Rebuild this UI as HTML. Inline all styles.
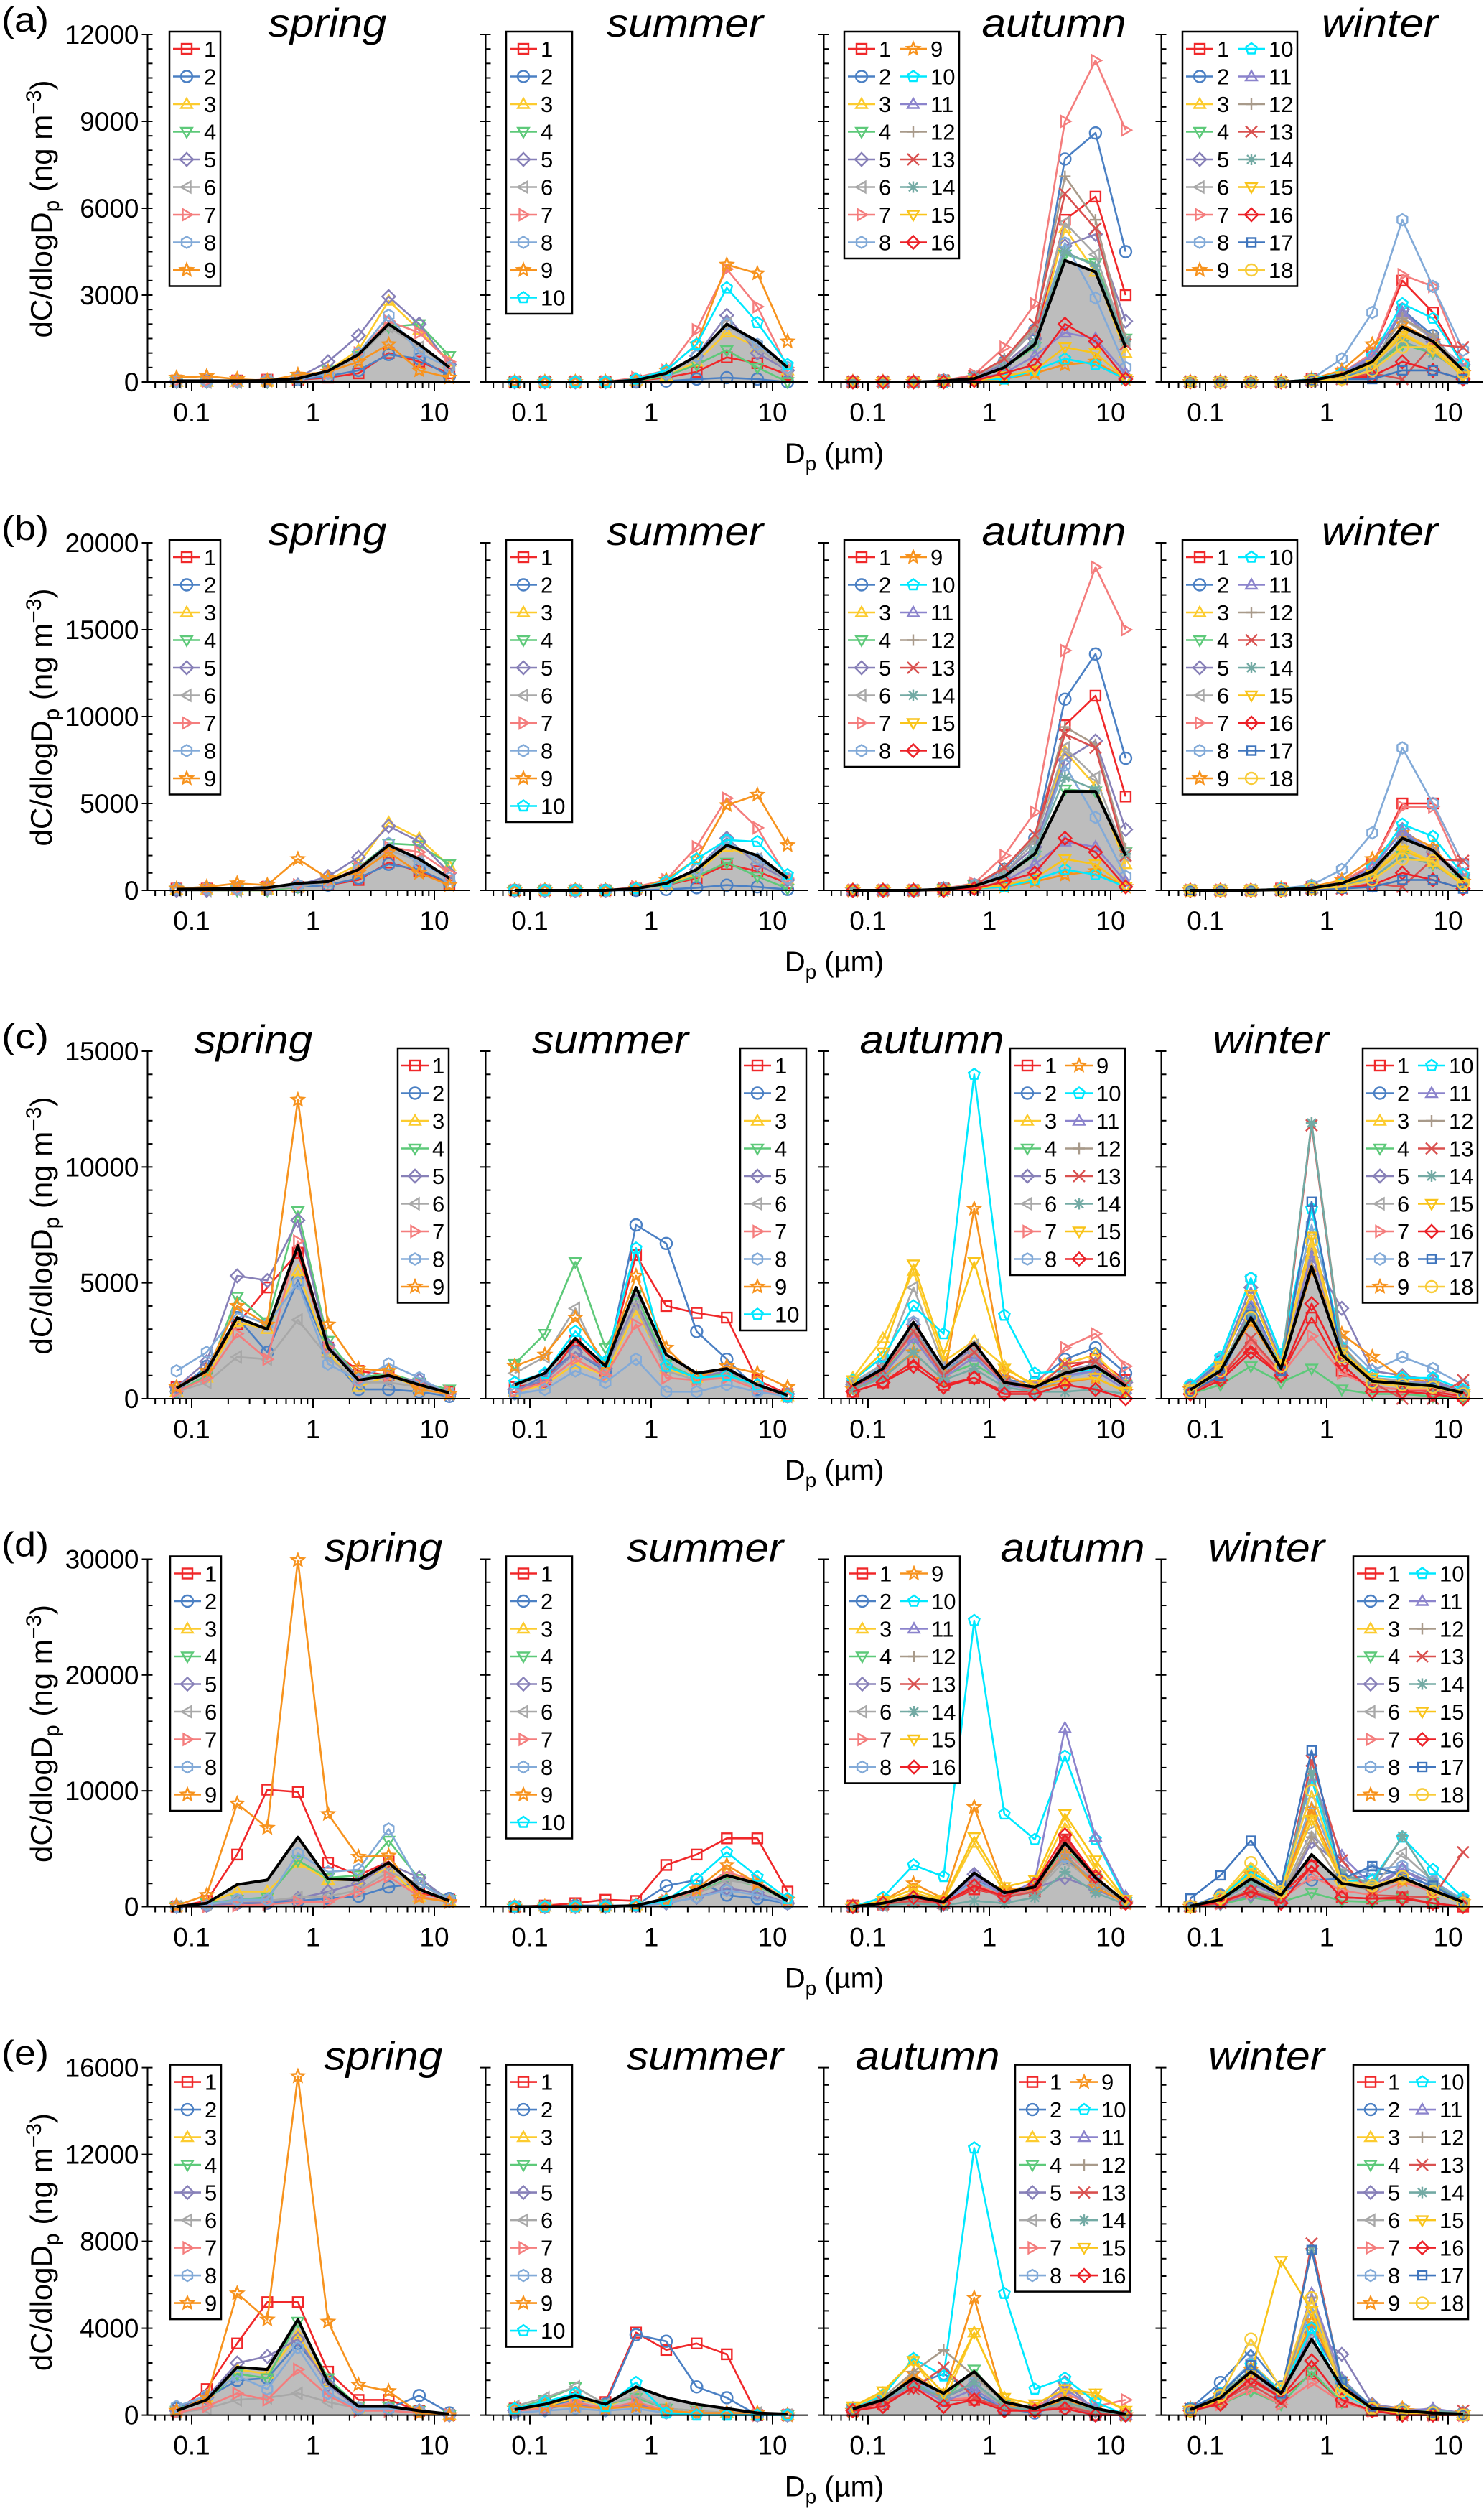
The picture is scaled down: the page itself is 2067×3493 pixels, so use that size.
<!DOCTYPE html>
<html><head><meta charset="utf-8"><title>Size distributions</title>
<style>html,body{margin:0;padding:0;background:#fff}svg{display:block}text{font-family:"Liberation Sans",Arial,sans-serif}</style>
</head><body>
<svg id="chart" xmlns="http://www.w3.org/2000/svg" width="2067" height="3493" viewBox="0 0 2067 3493"></svg>
<script>
// ---------- data ----------
const sizeBins = [0.075,0.133,0.237,0.42,0.75,1.33,2.37,4.2,7.5,13.3];
const rowLabels = ['(a)','(b)','(c)','(d)','(e)'];
const seasons = ['spring','summer','autumn','winter'];
const yMax = [12000,20000,15000,30000,16000];
const yStep = [3000,5000,5000,10000,4000];
const yMinorDiv = [6,5,5,5,5];
const xTickLabels = ['0.1','1','10'];
const xTickValues = [0.1,1,10];

const a_spring = [[50,50,50,80,80,150,300,1000,700,300],[30,30,30,50,80,200,400,950,800,200],[0,0,0,0,100,400,1100,2800,1800,700],[0,0,0,0,100,400,900,1900,2000,900],[30,30,30,50,150,700,1600,2950,2000,600],[0,0,0,50,100,300,900,1900,1200,500],[30,30,30,50,100,300,1000,2100,1700,700],[30,30,30,50,100,300,1000,2300,1000,500],[150,200,100,50,250,350,700,1300,400,150]];
const a_spring_mean = [40,40,40,50,120,380,950,2000,1300,500];
const a_summer = [[0,0,0,0,50,150,350,850,650,250],[0,0,0,0,0,30,100,150,100,0],[0,0,0,0,50,200,700,1700,1200,400],[0,0,0,0,50,200,600,1100,500,0],[0,0,0,0,50,300,900,2300,1000,400],[0,0,0,0,50,300,800,2000,1200,400],[0,0,0,0,150,400,1800,3900,2600,500],[0,0,0,0,50,300,900,2000,1300,500],[0,0,0,0,50,400,1300,4050,3750,1400],[0,0,0,0,100,400,1300,3250,2050,600]];
const a_summer_mean = [0,0,0,0,60,300,900,2000,1400,500];
const a_autumn = [[0,0,0,50,150,600,1500,5600,6400,3000],[0,0,0,50,150,700,1800,7700,8600,4500],[0,0,0,50,150,500,1300,5300,3800,1000],[0,0,0,50,150,500,1200,4400,4100,1500],[0,0,0,50,150,600,1500,4700,5100,2100],[0,0,0,50,200,700,1800,5500,4400,1400],[0,0,0,50,250,1200,2700,9000,11100,8700],[0,0,0,50,150,500,1300,4800,2900,500],[0,0,0,0,50,100,300,600,700,100],[0,0,0,0,100,100,400,800,600,100],[0,0,0,0,100,300,900,1700,1500,300],[0,0,0,50,200,800,1900,7100,5600,1500],[0,0,0,50,200,800,2000,6500,5300,1300],[0,0,0,50,150,500,1400,4500,4000,1400],[0,0,0,0,50,200,400,1200,1000,100],[0,0,0,0,50,300,600,2000,1400,100]];
const a_autumn_mean = [0,0,0,30,120,500,1300,4200,3800,1200];
const a_winter = [[0,0,0,0,100,200,1000,3500,2400,600],[0,0,0,0,50,150,500,2500,1600,400],[0,0,0,0,50,200,700,1700,1100,300],[0,0,0,0,50,200,500,1300,1000,400],[0,0,0,0,50,300,800,2500,1400,600],[0,0,0,0,50,300,700,2200,1500,500],[0,0,0,0,100,300,1000,3700,3300,700],[0,0,0,0,100,800,2400,5600,3300,1100],[0,0,0,0,100,400,1300,2000,1400,300],[0,0,0,0,100,300,900,2700,2200,600],[0,0,0,0,50,300,900,2400,1500,400],[0,0,0,0,50,200,600,2200,1600,300],[0,0,0,0,50,100,300,100,1300,1200],[0,0,0,0,50,200,500,1400,1000,300],[0,0,0,0,50,200,600,1600,1100,200],[0,0,0,0,50,100,200,700,400,100],[0,0,0,0,50,100,100,400,400,100],[0,0,0,0,50,100,400,1200,1200,300]];
const a_winter_mean = [0,0,0,0,60,250,700,1900,1400,400];

const b_spring = [[100,100,100,200,200,300,600,1600,1100,300],[100,100,100,200,200,300,700,1500,1200,400],[0,0,0,0,200,600,1500,3900,3000,1400],[0,0,0,0,200,500,1300,2700,2600,1500],[0,0,100,100,300,800,1900,3700,2800,1000],[0,0,0,100,200,500,1200,2300,1700,600],[100,100,100,200,300,500,1300,2500,2200,1000],[100,100,100,200,300,500,1200,2700,1600,700],[100,200,400,300,1800,700,1000,2200,1000,300]];
const b_spring_mean = [60,80,100,150,400,500,1200,2600,1800,700];
const b_summer = [[0,0,0,0,100,300,700,1500,1100,400],[0,0,0,0,0,50,150,300,200,50],[0,0,0,0,100,300,1000,2500,1800,600],[0,0,0,0,100,300,800,1600,800,100],[0,0,0,0,100,400,1200,3000,1500,600],[0,0,0,0,100,400,1100,2700,1800,600],[0,0,0,0,200,600,2500,5300,3600,700],[0,0,0,0,100,400,1200,2800,1800,700],[0,0,0,0,100,600,1800,4900,5500,2600],[0,0,0,0,100,500,1800,2900,2800,900]];
const b_summer_mean = [0,0,0,0,100,400,1200,2600,2000,700];
const b_autumn = [[0,0,0,100,300,1000,2500,9500,11200,5400],[0,0,0,100,300,1200,3000,11000,13600,7600],[0,0,0,100,300,900,2200,8000,6000,1500],[0,0,0,100,300,800,2000,5800,5700,2200],[0,0,0,100,300,1000,2500,7500,8600,3500],[0,0,0,100,300,1000,2800,8200,6500,2000],[0,0,0,100,400,2000,4500,13800,18600,15000],[0,0,0,100,300,900,2200,7200,4200,800],[0,0,0,0,100,200,500,900,1100,200],[0,0,0,0,100,200,600,1200,900,200],[0,0,0,0,100,500,1500,2800,2500,500],[0,0,0,100,300,1300,3000,9400,8400,2400],[0,0,0,100,300,1300,3200,9000,8200,2000],[0,0,0,100,300,800,2300,6500,5800,2100],[0,0,0,0,100,300,700,1800,1500,200],[0,0,0,0,100,500,1000,3000,2200,200]];
const b_autumn_mean = [0,0,0,60,250,800,2100,5700,5700,2000];
const b_winter = [[0,0,0,100,200,400,1500,5000,5000,1500],[0,0,0,0,100,300,900,3200,2300,600],[0,0,0,0,100,300,1000,2500,1600,400],[0,0,0,0,100,300,700,2000,1500,600],[0,0,0,0,100,400,1200,3500,2200,900],[0,0,0,0,100,400,1000,3000,2200,700],[0,0,0,100,200,500,1500,4800,4800,1000],[0,0,0,100,300,1200,3300,8200,5000,1500],[0,0,0,100,200,600,1800,3300,2500,500],[0,0,0,100,200,400,1300,3800,3100,900],[0,0,0,0,100,400,1300,3400,2200,600],[0,0,0,0,100,300,900,3000,2300,500],[0,0,0,0,100,100,400,200,1800,1700],[0,0,0,0,100,300,700,2000,1500,400],[0,0,0,0,100,300,900,2300,1600,300],[0,0,0,0,100,100,300,1000,600,100],[0,0,0,0,100,100,200,600,600,100],[0,0,0,0,100,200,600,1800,1700,400]];
const b_winter_mean = [0,0,0,40,130,400,1100,3000,2300,600];

const c_spring = [[500,1300,3200,4800,6300,2200,1200,1000,600,300],[300,1400,3500,2000,5100,2000,400,400,300,100],[300,900,3300,3000,5500,2000,500,1000,500,200],[300,1000,4400,3300,8100,2500,900,1100,700,400],[500,1600,5300,5100,7700,2300,900,900,800,200],[300,700,1800,1700,3400,1800,700,700,500,200],[300,900,2800,1700,6800,2200,800,1000,600,300],[1200,2000,3700,3200,5000,1500,800,1500,900,200],[500,1200,4000,3200,12900,3200,1300,1200,400,200]];
const c_spring_mean = [450,1200,3500,3000,6600,2200,800,1000,600,250];
const c_summer = [[500,700,2500,1200,6200,4000,3700,3500,800,200],[300,1000,2000,1200,7500,6700,2900,1700,400,100],[300,600,1500,1000,3800,1300,900,1000,500,100],[1500,2800,5900,2200,4500,1500,900,1100,500,100],[400,800,2000,1300,4200,1400,900,1200,600,200],[1100,1800,3900,1200,4000,1200,800,1000,500,100],[300,700,1700,1000,3200,900,800,900,400,100],[200,400,1200,700,1700,300,300,600,300,100],[1400,1900,3500,1500,5300,2200,900,1400,1100,500],[700,1100,2900,1600,6500,1400,900,1000,600,100]];
const c_summer_mean = [600,1100,2600,1400,4800,1900,1100,1300,600,150];
const c_autumn = [[300,700,1600,600,900,300,300,1300,1700,800],[700,1400,3000,1200,2000,800,700,1700,2200,1100],[900,2600,5500,1600,2500,1400,500,1500,1900,600],[500,1100,2600,1000,1500,700,400,900,1300,600],[600,1300,3200,1300,2200,800,500,1200,1500,700],[700,1500,4800,1400,2300,600,400,1100,1500,500],[500,1200,2800,1000,2100,700,500,2200,2800,1400],[600,1400,3300,1200,1900,500,300,900,1200,400],[400,1000,2000,800,8200,1100,400,700,900,300],[800,1800,4000,2800,14000,3600,1100,1200,1200,400],[500,1000,2600,900,1800,600,400,1000,1200,400],[600,1300,3000,1100,2000,700,500,1200,1400,500],[500,1200,2900,1000,2000,700,400,1500,1600,600],[400,900,2000,800,1300,500,300,300,400,200],[800,2000,5800,1900,5900,1300,600,800,900,300],[300,700,1400,500,900,200,200,600,400,0]];
const c_autumn_mean = [560,1300,3300,1300,2400,700,500,1100,1400,550];
const c_winter = [[300,900,2200,1000,3500,1200,500,400,300,100],[500,1600,4200,1300,5700,2100,800,700,600,300],[400,1300,3400,1200,6500,1800,700,500,400,200],[200,600,1400,700,1300,400,200,200,100,0],[500,1500,4800,1600,6100,3900,1200,1000,800,300],[400,1200,3600,1400,5900,2200,900,800,600,300],[300,1000,2500,1000,2700,1100,500,400,400,200],[600,1700,5200,1800,7500,2500,1200,1800,1300,600],[400,1300,3300,1300,5500,2800,1800,900,700,300],[600,1800,5200,1900,8200,2200,1000,900,900,400],[400,1200,4000,1300,6300,2100,800,700,700,300],[400,1300,3800,1200,11900,2300,900,700,600,300],[300,900,2600,1100,11800,2000,700,0,0,800],[400,1300,3700,1300,11900,2100,800,700,600,300],[400,1400,4500,1500,7000,2000,900,600,500,200],[200,800,2000,1000,4100,1500,300,300,200,0],[300,1000,3600,1200,8500,1800,700,600,500,200],[300,1200,3500,1400,6800,1800,700,600,500,200]];
const c_winter_mean = [380,1200,3500,1300,5700,1900,750,650,550,250];

const d_spring = [[0,500,4500,10100,9900,3800,2700,3900,1200,600],[0,100,300,300,500,700,900,1700,2000,700],[0,300,1300,1300,3800,2300,2300,3300,800,500],[0,300,600,800,4000,2500,2700,5700,2400,600],[0,100,300,400,700,1300,2000,3700,2500,500],[0,200,500,500,800,900,1400,3000,2000,500],[0,0,100,200,400,400,1300,2600,900,400],[0,200,600,600,4600,3000,3200,6700,2000,600],[100,1000,8900,6800,29900,8000,4300,4400,800,400]];
const d_spring_mean = [0,300,1900,2300,6000,2400,2300,3800,1500,500];
const d_summer = [[0,100,300,600,500,3600,4500,5900,5900,1300],[0,0,100,100,100,1800,2300,1000,700,300],[0,0,0,0,100,500,1300,2900,2200,600],[0,0,0,0,100,500,1200,2400,1800,500],[0,0,0,0,100,300,800,1600,1200,300],[0,0,0,0,100,400,1100,2300,1900,500],[0,0,0,0,100,500,1400,3000,2200,500],[0,0,0,0,100,300,800,1400,1000,300],[0,0,0,0,100,600,1500,3600,2000,600],[0,0,0,0,100,500,2400,4700,2600,700]];
const d_summer_mean = [0,0,0,0,100,700,1500,2700,2000,500];
const d_autumn = [[100,200,500,300,1500,1000,1500,5800,2500,300],[0,200,800,300,2300,1200,1900,4200,2000,500],[0,300,1200,500,5500,1300,1900,7200,3200,600],[0,200,500,200,2000,1000,1500,5000,2400,400],[0,200,600,200,2800,1100,1600,2500,1500,400],[0,100,400,200,2000,900,1200,4000,2000,400],[0,200,600,300,2000,900,1500,4800,2400,500],[0,200,600,300,2200,1100,1700,4300,2200,500],[0,500,2000,700,8600,1500,1500,4500,1700,300],[0,800,3600,2600,24700,8000,5800,13000,5800,600],[0,300,700,200,2700,900,2200,15400,6000,900],[0,200,600,300,1800,900,1300,4500,2000,400],[0,200,500,300,1700,800,1300,5900,2600,400],[0,100,300,100,500,300,800,3000,1200,200],[0,500,1500,600,6000,1700,2300,8000,4000,600],[0,300,800,300,1800,900,1900,6200,2600,300]];
const d_autumn_mean = [0,300,900,400,2900,1200,1700,5500,2500,400];
const d_winter = [[0,700,2300,1000,3500,800,700,800,300,0],[0,1000,2600,1300,2300,2400,2700,3100,2000,500],[0,800,3300,1500,8000,2500,1800,2500,1500,400],[0,200,800,400,1200,500,400,700,300,0],[0,300,1000,500,5600,3500,1500,3200,2000,500],[0,500,2200,1000,6500,2800,1700,4600,2200,500],[0,300,1200,600,2600,1400,1000,2100,1300,300],[0,600,2500,1100,9000,2500,3200,3500,2200,600],[0,800,2800,1200,8400,2000,1600,2300,1500,400],[0,800,3000,1500,11000,2200,2300,6000,3200,800],[0,500,2000,800,11300,4400,1800,3300,1500,300],[0,400,1500,700,6000,2000,1400,2500,1300,300],[0,300,1300,600,12600,4000,1000,900,800,4700],[0,500,2100,1000,11600,2800,2000,6100,2000,500],[0,600,2800,1200,7500,2200,1700,2400,1400,300],[0,400,1300,300,3500,800,700,700,300,0],[700,2700,5700,1800,13500,2400,3500,2700,1800,400],[0,800,3800,1300,10000,2200,1800,2600,1300,300]];
const d_winter_mean = [50,600,2400,1000,4500,2000,1600,2500,1400,400];

const e_spring = [[200,1200,3300,5200,5200,2000,700,700,200,0],[300,800,1600,1700,3300,1600,300,300,900,100],[200,800,2100,1900,3700,1500,300,400,200,0],[200,700,1900,1700,4300,1700,400,400,200,0],[200,800,2400,2700,3500,1400,300,300,200,0],[100,300,700,800,1000,600,300,200,100,0],[100,400,1000,700,2100,900,200,200,100,0],[400,900,1800,1200,3100,1000,300,300,200,0],[200,800,5600,4400,15600,4300,1400,1100,100,0]];
const e_spring_mean = [200,700,2200,2100,4400,1500,400,400,200,50];
const e_summer = [[300,500,800,600,3800,3000,3300,2800,0,0],[200,400,700,500,3700,3400,1300,800,0,0],[200,400,800,400,900,300,200,100,0,0],[300,700,1300,500,800,300,200,100,0,0],[200,300,500,300,500,200,100,100,0,0],[400,800,1300,500,900,300,200,100,100,0],[200,300,600,300,600,200,100,100,0,0],[100,200,300,200,300,100,100,100,0,0],[300,400,400,300,400,200,100,100,100,0],[300,600,1000,400,1500,100,0,0,0,0]];
const e_summer_mean = [250,500,900,500,1300,800,500,300,100,50];
const e_autumn = [[200,500,1500,700,700,400,300,500,0,0],[300,600,1400,1900,1000,300,100,500,0,0],[300,1000,2500,600,3800,800,200,1100,900,200],[300,600,1500,700,2100,500,300,600,200,0],[300,700,1600,800,1400,400,200,1500,200,0],[300,700,1700,900,1400,300,200,800,200,0],[200,500,1300,700,800,300,400,1000,400,700],[300,700,1600,800,1500,400,200,1200,300,0],[200,600,1900,900,5400,500,200,700,300,0],[300,900,2600,1800,12300,5600,1200,1700,600,0],[300,600,1400,600,1200,300,200,1200,300,0],[300,800,2000,3000,1800,600,200,500,100,0],[200,600,1200,2200,800,300,200,400,100,0],[300,700,1400,800,1500,400,200,600,200,0],[400,1100,2500,1000,3800,800,500,1200,1000,200],[200,400,1300,400,700,200,200,300,0,0]];
const e_autumn_mean = [280,700,1700,1000,2000,600,300,800,300,50];
const e_winter = [[200,600,1600,800,1900,600,200,100,0,0],[300,1500,3000,1300,4000,1500,400,200,100,100],[300,900,2400,1100,4600,1300,300,200,100,0],[200,500,1100,500,2000,600,200,100,0,0],[300,900,2000,900,3800,2800,500,300,200,100],[300,800,1800,800,3500,1200,300,200,100,0],[200,500,1200,500,1500,600,200,100,0,0],[300,1000,2400,1000,5000,1500,400,300,200,100],[300,900,2100,1000,4300,1500,400,300,200,100],[300,1000,2300,1100,4000,1000,300,200,100,0],[300,900,2000,900,5600,1700,300,200,300,100],[300,800,1800,800,5400,1400,300,200,100,0],[300,600,1400,600,7900,1500,300,0,0,200],[300,900,2100,900,7600,1600,400,200,200,100],[200,700,1900,7100,4800,1200,300,100,0,0],[200,500,1700,800,2500,700,200,0,0,0],[300,1000,2300,1000,7600,1500,400,200,100,0],[200,900,3500,1200,5400,1100,300,200,100,0]];
const e_winter_mean = [250,800,2000,1000,3500,1300,300,200,100,50];

const seriesData = [[a_spring,a_summer,a_autumn,a_winter],[b_spring,b_summer,b_autumn,b_winter],[c_spring,c_summer,c_autumn,c_winter],[d_spring,d_summer,d_autumn,d_winter],[e_spring,e_summer,e_autumn,e_winter]];
const meanData = [[a_spring_mean,a_summer_mean,a_autumn_mean,a_winter_mean],[b_spring_mean,b_summer_mean,b_autumn_mean,b_winter_mean],[c_spring_mean,c_summer_mean,c_autumn_mean,c_winter_mean],[d_spring_mean,d_summer_mean,d_autumn_mean,d_winter_mean],[e_spring_mean,e_summer_mean,e_autumn_mean,e_winter_mean]];

// ---------- layout ----------
const X01 = [267,738,1209,1679], DEC = 169, PH = 484;
const Y0 = [532,1240,1948,2655.5,3363.6];
const titleX = [[456,954,1468,1922],[456,954,1468,1922],[353,850,1298,1770],[534,982,1494,1764],[534,982,1292,1764]];
const titleW = {spring:165,summer:218,autumn:201,winter:162};
const legX = [[236,705,1176,1647],[236,705,1176,1647],[554,1031,1407,1898],[237,705,1177,1885],[237,705,1414,1885]];
const colors = ['#f0282a','#4b80c4','#fccb2e','#5dc979','#8780b8','#a8a8a8','#f47d7d','#82aad8','#f7931e','#00e8ff','#8b83cc','#a89a8a','#d9504f','#73aaa4','#f9c41a','#ec2027','#3f75bd','#f8cc3a'];
const shapes = ['square','circle','up','down','diamond','left','right','hex','star','pent','up','plus','cross','aster','down','diamond','sq2','circle'];

const NS = 'http://www.w3.org/2000/svg';
const svg = document.getElementById('chart');
function mk(tag, attrs, parent){const e=document.createElementNS(NS,tag);for(const k in attrs)e.setAttribute(k,attrs[k]);(parent||svg).appendChild(e);return e;}
function xs(p,v){return X01[p]+(Math.log10(v)+1)*DEC;}
function ys(r,v){return Y0[r]-Math.max(0,v)/yMax[r]*PH;}
function poly(cx,cy,r,n,rot){let pts=[];for(let i=0;i<n;i++){const a=rot+i*2*Math.PI/n;pts.push((cx+r*Math.cos(a)).toFixed(1)+','+(cy+r*Math.sin(a)).toFixed(1));}return pts.join(' ');}
function marker(g,shape,cx,cy,col){
  const st={fill:'none',stroke:col,'stroke-width':2.4};let el;
  const r=8;
  if(shape==='square'||shape==='sq2'){const s=shape==='sq2'?6:7;el=mk('rect',Object.assign({x:cx-s,y:cy-s,width:2*s,height:2*s},st),g);}
  else if(shape==='circle'){el=mk('circle',Object.assign({cx:cx,cy:cy,r:r},st),g);}
  else if(shape==='up'){el=mk('polygon',Object.assign({points:poly(cx,cy+1,r+1,3,-Math.PI/2)},st),g);}
  else if(shape==='down'){el=mk('polygon',Object.assign({points:poly(cx,cy-1,r+1,3,Math.PI/2)},st),g);}
  else if(shape==='left'){el=mk('polygon',Object.assign({points:poly(cx+1,cy,r+1,3,Math.PI)},st),g);}
  else if(shape==='right'){el=mk('polygon',Object.assign({points:poly(cx-1,cy,r+1,3,0)},st),g);}
  else if(shape==='diamond'){el=mk('polygon',Object.assign({points:poly(cx,cy,r+1,4,0)},st),g);}
  else if(shape==='hex'){el=mk('polygon',Object.assign({points:poly(cx,cy,r,6,Math.PI/2)},st),g);}
  else if(shape==='pent'){el=mk('polygon',Object.assign({points:poly(cx,cy,r,5,-Math.PI/2)},st),g);}
  else if(shape==='star'){let pts=[];for(let i=0;i<10;i++){const a=-Math.PI/2+i*Math.PI/5,rr=i%2?4:9;pts.push((cx+rr*Math.cos(a)).toFixed(1)+','+(cy+rr*Math.sin(a)).toFixed(1));}el=mk('polygon',Object.assign({points:pts.join(' ')},st),g);}
  else if(shape==='plus'){el=mk('path',Object.assign({d:`M${cx-r},${cy}H${cx+r}M${cx},${cy-r}V${cy+r}`},st),g);}
  else if(shape==='cross'){el=mk('path',Object.assign({d:`M${cx-r},${cy-r}L${cx+r},${cy+r}M${cx-r},${cy+r}L${cx+r},${cy-r}`},st),g);}
  else {el=mk('path',Object.assign({d:`M${cx-r},${cy}H${cx+r}M${cx},${cy-r}V${cy+r}M${cx-6},${cy-6}L${cx+6},${cy+6}M${cx-6},${cy+6}L${cx+6},${cy-6}`},st),g);}
  return el;
}

for(let r=0;r<5;r++){
  const y0=Y0[r], yt=y0-PH;
  const lab=mk('text',{x:2,y:y0-488,'font-size':48,textLength:66,lengthAdjust:'spacingAndGlyphs'});
  lab.textContent=rowLabels[r];
  
  
  const yt2=mk('text',{x:0,y:0,'font-size':42,'text-anchor':'middle',transform:`translate(72,${yt+243}) rotate(-90)`});
  yt2.innerHTML='dC/dlogD<tspan font-size="30" dy="10">p</tspan><tspan dy="-10"> (ng m</tspan><tspan font-size="30" dy="-15">−3</tspan><tspan dy="15">)</tspan>';
  
  
  const xt=mk('text',{x:1162,y:y0+113,'font-size':40,'text-anchor':'middle'});
  xt.innerHTML='D<tspan font-size="28" dy="10">p</tspan><tspan dy="-10"> (µm)</tspan>';
  
  

  for(let p=0;p<4;p++){
    const g=mk('g',{});
    
    
    const xl=X01[p]-61.5, xr=X01[p]+2*DEC+49;
    const mean=meanData[r][p];
    let d=`M${xs(p,sizeBins[0])},${y0}`;
    sizeBins.forEach((b,i)=>{d+=`L${xs(p,b).toFixed(1)},${ys(r,mean[i]).toFixed(1)}`;});
    d+=`L${xs(p,sizeBins[sizeBins.length-1])},${y0}Z`;
    const area=mk('path',{d:d,fill:'#bdbdbd',stroke:'none'},g);
    
    
    const S=seriesData[r][p];
    S.forEach((vals,si)=>{
      const sg=mk('g',{},g);
      
      
      const pts=vals.map((v,i)=>xs(p,sizeBins[i]).toFixed(1)+','+ys(r,v).toFixed(1)).join(' ');
      mk('polyline',{points:pts,fill:'none',stroke:colors[si],'stroke-width':2.6,'stroke-linejoin':'round'},sg);
      vals.forEach((v,i)=>{const m=marker(sg,shapes[si],xs(p,sizeBins[i]),ys(r,v),colors[si]);
        
        });
    });
    const ml=mk('polyline',{points:mean.map((v,i)=>xs(p,sizeBins[i]).toFixed(1)+','+ys(r,v).toFixed(1)).join(' '),fill:'none',stroke:'#000','stroke-width':4,'stroke-linejoin':'round'},g);
    
    
    mk('line',{x1:xl,y1:yt,x2:xl,y2:y0,stroke:'#000','stroke-width':2},g);
    mk('line',{x1:xl,y1:y0,x2:xr,y2:y0,stroke:'#000','stroke-width':2},g);
    for(let v=0;v<=yMax[r];v+=yStep[r]){
      const y=ys(r,v);
      mk('line',{x1:xl-8,y1:y,x2:xl+7,y2:y,stroke:'#000','stroke-width':2},g);
      if(p===0){const t=mk('text',{x:xl-12,y:y+13,'font-size':37,'text-anchor':'end'},g);t.textContent=String(v);
        
        }
      if(v<yMax[r]) for(let k=1;k<yMinorDiv[r];k++){const ym=ys(r,v+k*yStep[r]/yMinorDiv[r]);mk('line',{x1:xl,y1:ym,x2:xl+7,y2:ym,stroke:'#000','stroke-width':2},g);}
    }
    for(let e=-2;e<=1;e++)for(let m=1;m<10;m++){
      const v=m*Math.pow(10,e), x=xs(p,v);
      if(x<xl||x>xr)continue;
      mk('line',{x1:x,y1:y0,x2:x,y2:y0+(m===1?13:8),stroke:'#000','stroke-width':2},g);
    }
    xTickValues.forEach((v,i)=>{const t=mk('text',{x:xs(p,v),y:y0+55,'font-size':37,'text-anchor':'middle'},g);t.textContent=xTickLabels[i];
      
      });
    const tt=mk('text',{x:titleX[r][p],y:yt+3,'font-size':56,'font-style':'italic','text-anchor':'middle',textLength:titleW[seasons[p]],lengthAdjust:'spacingAndGlyphs'},g);
    tt.textContent=seasons[p];
    
    
    const n=S.length, twoCol=n>10, rows=twoCol?Math.ceil(n/2):n;
    const lx=legX[r][p], ly=yt-4;
    const w=twoCol?160:(n>=10?92:71), h=rows*38.5+8;
    const lg=mk('g',{},g);
    
    
    mk('rect',{x:lx,y:ly,width:w,height:h,fill:'#fff',stroke:'#000','stroke-width':2.5},lg);
    for(let si=0;si<n;si++){
      const c=twoCol?Math.floor(si/rows):0, rr=twoCol?si%rows:si;
      const ox=lx+c*72, cy=ly+24+rr*38.5;
      const it=mk('g',{},lg);
      
      
      mk('line',{x1:ox+5,y1:cy,x2:ox+43,y2:cy,stroke:colors[si],'stroke-width':2.6},it);
      marker(it,shapes[si],ox+24,cy,colors[si]);
      const t=mk('text',{x:ox+48,y:cy+11,'font-size':31},it);t.textContent=String(si+1);
    }
  }
}
</script>
</body></html>
